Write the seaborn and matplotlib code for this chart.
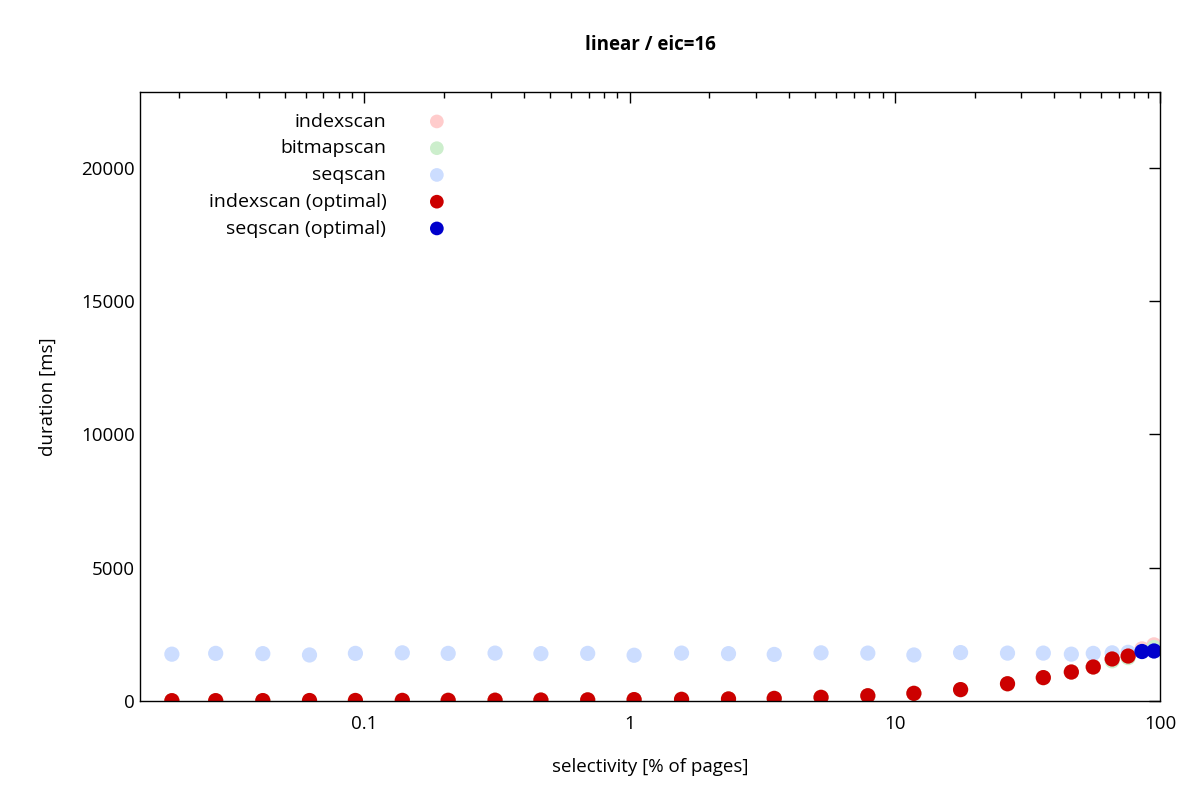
import numpy as np
import pandas as pd
import seaborn as sns
import matplotlib
matplotlib.use("Agg")
import matplotlib.pyplot as plt
from matplotlib.ticker import FixedLocator, LogLocator, NullFormatter, FixedFormatter

selectivity = [0.0188, 0.0275, 0.0414, 0.0621, 0.0925, 0.139, 0.207, 0.311, 0.463, 0.695,
               1.04, 1.57, 2.36, 3.51, 5.27, 7.91, 11.8, 17.7, 26.6, 36.3, 46.3, 56.0, 66.0, 75.8, 85.5, 94.9]
seqscan = [1750, 1780, 1770, 1720, 1780, 1800, 1780, 1790, 1770, 1780, 1710, 1790, 1770, 1740,
           1800, 1790, 1720, 1810, 1790, 1790, 1750, 1780, 1800, 1820, 1850, 1870]
indexscan = [5, 6, 8, 10, 12, 15, 18, 22, 28, 35, 45, 55, 70, 90, 130, 190, 280, 420, 640, 870,
             1080, 1270, 1570, 1680, 1950, 2100]
bitmapscan = [5, 6, 8, 10, 12, 15, 18, 22, 28, 35, 45, 55, 70, 90, 130, 190, 280, 420, 640, 870,
              1080, 1270, 1500, 1620, 1850, 2000]
idx_opt_x = selectivity[:24]
idx_opt_y = indexscan[:24]
seq_opt_x = selectivity[24:]
seq_opt_y = seqscan[24:]

sns.set_theme(style="white")
plt.rcParams['font.family'] = ['Open Sans', 'Noto Sans', 'DejaVu Sans']
plt.rcParams['text.color'] = 'black'
plt.rcParams['axes.labelcolor'] = 'black'
plt.rcParams['xtick.color'] = 'black'
plt.rcParams['ytick.color'] = 'black'

fig = plt.figure(figsize=(12, 8), dpi=100)
ax = fig.add_axes([0.1167, 0.124, 0.85, 0.761])

s = 120
sns.scatterplot(x=selectivity, y=indexscan, ax=ax, color="#ffcccc", s=s, edgecolor="none", label="indexscan")
sns.scatterplot(x=selectivity, y=bitmapscan, ax=ax, color="#cceecc", s=s, edgecolor="none", label="bitmapscan")
sns.scatterplot(x=selectivity, y=seqscan, ax=ax, color="#ccddff", s=s, edgecolor="none", label="seqscan")
sns.scatterplot(x=idx_opt_x, y=idx_opt_y, ax=ax, color="#cc0000", s=s, edgecolor="none", label="indexscan (optimal)")
sns.scatterplot(x=seq_opt_x, y=seq_opt_y, ax=ax, color="#0000cc", s=s, edgecolor="none", label="seqscan (optimal)")

ax.set_xscale("log")
ax.set_xlim(0.01426, 100)
ax.set_ylim(0, 22850)
ax.xaxis.set_major_locator(FixedLocator([0.1, 1, 10, 100]))
ax.xaxis.set_major_formatter(FixedFormatter(["0.1", "1", "10", "100"]))
ax.xaxis.set_minor_locator(LogLocator(base=10, subs=np.arange(2, 10)))
ax.xaxis.set_minor_formatter(NullFormatter())
ax.set_yticks([0, 5000, 10000, 15000, 20000])
ax.tick_params(which="both", direction="in", top=True, right=True, labelsize=13.5, color="black")
ax.tick_params(which="major", length=8, width=1)
ax.tick_params(which="minor", length=4, width=1)
ax.tick_params(axis="x", pad=10)
for sp in ax.spines.values():
    sp.set_color("black")
    sp.set_linewidth(1)

ax.set_xlabel("selectivity [% of pages]", fontsize=13.5, labelpad=18)
ax.set_ylabel("duration [ms]", fontsize=13.5, labelpad=18)
ax.set_title("linear / eic=16", fontsize=13.5, fontweight="bold", pad=30)

leg = ax.legend(loc="upper left", bbox_to_anchor=(0.05, 0.995), frameon=False, markerfirst=False,
                fontsize=14, handletextpad=1.6, labelspacing=0.45, alignment="right", markerscale=0.9)
for t in leg.get_texts():
    t.set_ha("right")

fig.savefig("out.png", dpi=100)
